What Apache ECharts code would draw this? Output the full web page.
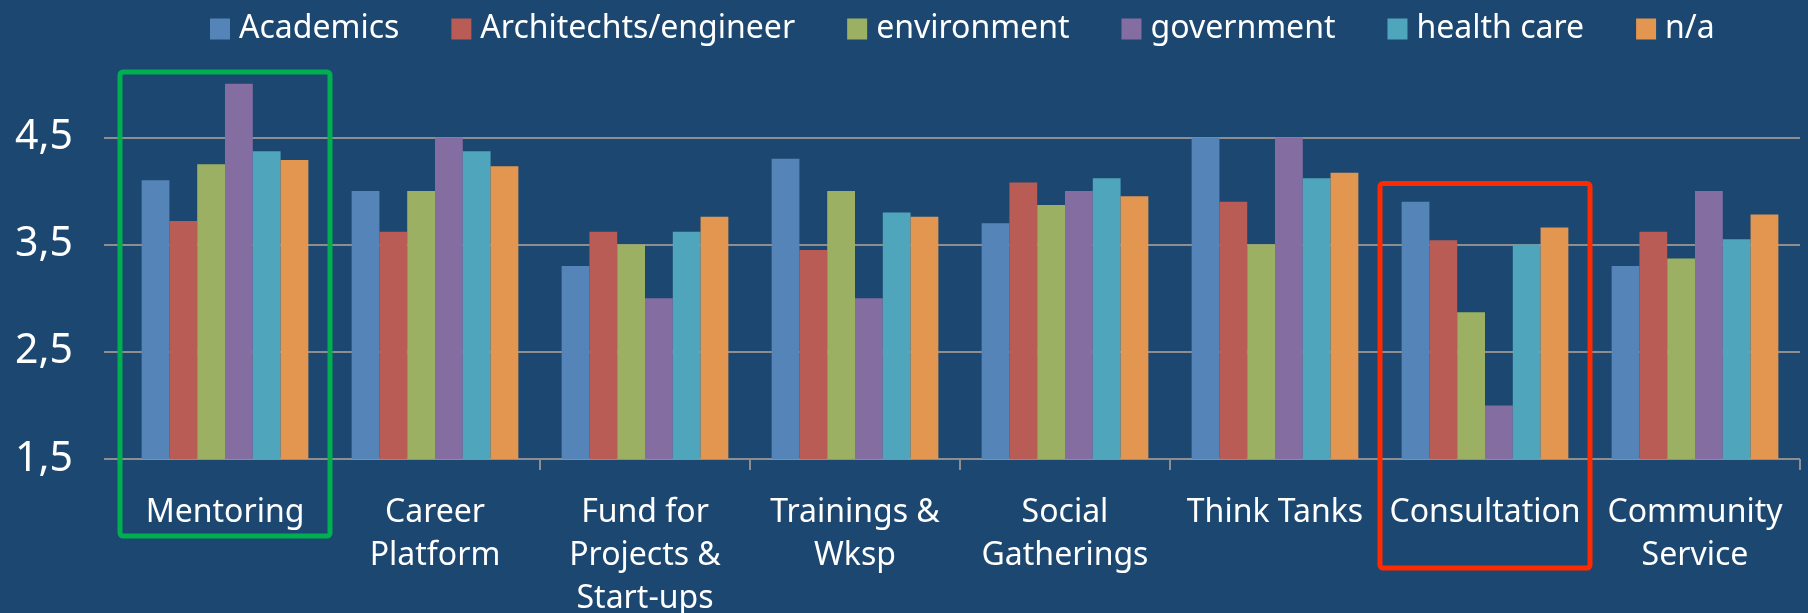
<!DOCTYPE html>
<html><head><meta charset="utf-8">
<script src="https://cdn.jsdelivr.net/npm/echarts@6/dist/echarts.min.js"></script>
<style>html,body{margin:0;padding:0;background:#1c4770;}#c{width:1808px;height:613px;}</style>
</head><body><div id="c"></div>
<script>
// ---- data ----
const categories = ['Mentoring', 'Career\nPlatform', 'Fund for\nProjects &\nStart-ups', 'Trainings &\nWksp', 'Social\nGatherings', 'Think Tanks', 'Consultation', 'Community\nService'];
const seriesNames = ['Academics', 'Architechts/engineer', 'environment', 'government', 'health care', 'n/a'];
const academics   = [4.1, 4.0, 3.3, 4.3, 3.7, 4.5, 3.9, 3.3];
const architects  = [3.72, 3.62, 3.62, 3.45, 4.08, 3.9, 3.54, 3.62];
const environment = [4.25, 4.0, 3.5, 4.0, 3.87, 3.5, 2.87, 3.37];
const government  = [5.0, 4.5, 3.0, 3.0, 4.0, 4.5, 2.0, 4.0];
const healthCare  = [4.37, 4.37, 3.62, 3.8, 4.12, 4.12, 3.5, 3.55];
const notAvail    = [4.29, 4.23, 3.76, 3.76, 3.95, 4.17, 3.66, 3.78];
const yMin = 1.5, yMax = 5, yStep = 1;
const highlightCats = ['Mentoring', 'Consultation'];

// ---- styling ----
const colors = ['#5585b8', '#b95c55', '#9cb063', '#846ea1', '#4fa6bc', '#e2964f'];
const values = [academics, architects, environment, government, healthCare, notAvail];
const gridLineColor = '#8e8e8e';
const FONT = 'Noto Sans';

const chart = echarts.init(document.getElementById('c'), null, {renderer: 'canvas'});
const gTop = 83.8, gBottom = 154, gRight = 8;
chart.setOption({
  backgroundColor: '#1c4770',
  animation: false,
  textStyle: {fontFamily: FONT},
  legend: {
    left: 210, top: 13, padding: 0,
    itemGap: 52, itemWidth: 20, itemHeight: 21, icon: 'rect',
    textStyle: {color: '#ffffff', fontSize: 32, fontFamily: FONT, padding: [0, 0, 0, 4]},
    data: seriesNames
  },
  grid: [
    {left: 104, right: gRight, top: gTop, bottom: gBottom, containLabel: false, outerBoundsMode: 'none'},
    {left: 120, right: gRight, top: gTop, bottom: gBottom, containLabel: false, outerBoundsMode: 'none'}
  ],
  xAxis: [
    {gridIndex: 0, type: 'value', show: false, min: 0, max: 1},
    {gridIndex: 1, type: 'category', data: categories,
     axisLine: {show: false},
     axisTick: {show: true, length: 11, lineStyle: {color: gridLineColor, width: 2}},
     axisLabel: {interval: 0, color: '#ffffff', fontSize: 32, lineHeight: 43, margin: 32, fontFamily: FONT, hideOverlap: false},
     splitLine: {show: false}}
  ],
  yAxis: [
    {gridIndex: 0, type: 'value', min: yMin, max: yMax, interval: yStep,
     axisLine: {show: false}, axisTick: {show: false},
     axisLabel: {color: '#ffffff', fontSize: 41, margin: 31, fontFamily: FONT, showMaxLabel: false,
                 formatter: v => String(v).replace('.', ',')},
     splitLine: {show: true, showMaxLine: false, lineStyle: {color: gridLineColor, width: 2}}},
    {gridIndex: 1, type: 'value', min: yMin, max: yMax, interval: yStep, show: false,
     splitLine: {show: false}}
  ],
  series: seriesNames.map((name, i) => ({
    name, type: 'bar', xAxisIndex: 1, yAxisIndex: 1,
    data: values[i], barGap: '0%', barCategoryGap: '20.6%',
    itemStyle: {color: colors[i]}, clip: true
  }))
});

// highlight boxes placed from the axes' own scales
function box(cat, color, topVal, belowAxis) {
  const idx = categories.indexOf(cat);
  const p0 = chart.convertToPixel({gridIndex: 1}, [0, yMin]);
  const p1 = chart.convertToPixel({gridIndex: 1}, [1, yMin]);
  const bw = p1[0] - p0[0];
  const c = chart.convertToPixel({gridIndex: 1}, [idx, topVal]);
  const x = c[0] - bw / 2;
  const y = c[1];
  const h = p0[1] + belowAxis - y;
  return {type: 'rect', shape: {x, y, width: bw, height: h, r: 3},
          style: {fill: 'none', stroke: color, lineWidth: 5}, z: 100};
}
chart.setOption({graphic: [
  box(highlightCats[0], '#00b050', 5.11, 77),
  box(highlightCats[1], '#ff2a00', 4.07, 109)
]});
</script></body></html>
